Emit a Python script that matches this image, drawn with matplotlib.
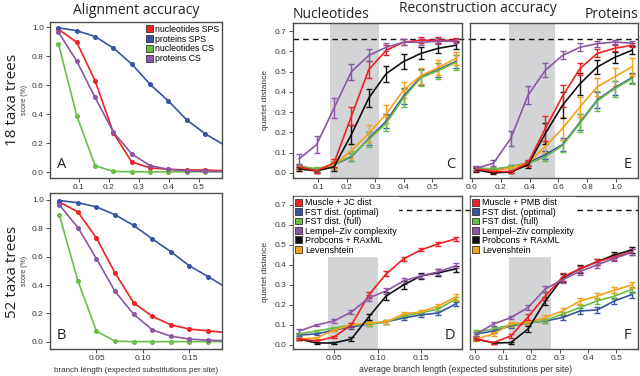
import matplotlib
matplotlib.use("Agg")
import matplotlib.pyplot as plt
from matplotlib.patches import Patch
from matplotlib import transforms

plt.rcParams['font.family'] = ['Liberation Sans', 'DejaVu Sans']

# ---------------------------------------------------------------------------
# Data
# ---------------------------------------------------------------------------
# alignment accuracy, 18 taxa (panel A)
x_a = [0.033, 0.094, 0.155, 0.216, 0.277, 0.338, 0.399, 0.46, 0.521, 0.582]
a_nuc_sps = [0.985, 0.895, 0.63, 0.27, 0.07, 0.03, 0.02, 0.015, 0.015, 0.01]
a_prot_sps = [0.995, 0.975, 0.935, 0.855, 0.745, 0.605, 0.49, 0.36, 0.265, 0.19]
a_nuc_cs = [0.885, 0.39, 0.045, 0.005, 0.003, 0.003, 0.003, 0.003, 0.003, 0.003]
a_prot_cs = [0.965, 0.765, 0.515, 0.275, 0.125, 0.045, 0.02, 0.01, 0.005, 0.005]

# alignment accuracy, 52 taxa (panel B)
x_b = [0.01, 0.03, 0.05, 0.07, 0.09, 0.11, 0.13, 0.15, 0.17, 0.19]
b_nuc_sps = [0.985, 0.915, 0.73, 0.485, 0.275, 0.18, 0.12, 0.09, 0.078, 0.065]
b_prot_sps = [0.995, 0.98, 0.95, 0.895, 0.82, 0.725, 0.635, 0.535, 0.46, 0.38]
b_nuc_cs = [0.895, 0.43, 0.075, 0.005, 0.002, 0.002, 0.002, 0.002, 0.002, 0.002]
b_prot_cs = [0.965, 0.805, 0.585, 0.355, 0.195, 0.085, 0.04, 0.02, 0.012, 0.008]

# reconstruction accuracy, nucleotides 18 taxa (panel C)
x_c = x_a
c_red = [0.03, 0.01, 0.05, 0.28, 0.51, 0.605, 0.645, 0.655, 0.655, 0.655]
c_blue = [0.03, 0.015, 0.04, 0.08, 0.17, 0.255, 0.38, 0.475, 0.51, 0.55]
c_green = [0.035, 0.02, 0.04, 0.085, 0.165, 0.245, 0.37, 0.47, 0.505, 0.545]
c_purple = [0.07, 0.14, 0.32, 0.50, 0.58, 0.62, 0.645, 0.645, 0.65, 0.65]
c_black = [0.02, 0.01, 0.03, 0.19, 0.37, 0.49, 0.55, 0.59, 0.615, 0.63]
c_orange = [0.02, 0.01, 0.04, 0.11, 0.195, 0.29, 0.41, 0.48, 0.52, 0.565]
c_red_err = [0.01, 0.01, 0.02, 0.045, 0.04, 0.025, 0.015, 0.015, 0.015, 0.01]
c_blue_err = [0.01, 0.01, 0.015, 0.02, 0.03, 0.035, 0.04, 0.04, 0.035, 0.03]
c_green_err = [0.01, 0.01, 0.015, 0.025, 0.035, 0.04, 0.045, 0.04, 0.04, 0.035]
c_purple_err = [0.025, 0.04, 0.05, 0.04, 0.03, 0.02, 0.015, 0.015, 0.015, 0.01]
c_black_err = [0.01, 0.01, 0.02, 0.045, 0.045, 0.04, 0.035, 0.03, 0.025, 0.02]
c_orange_err = [0.01, 0.01, 0.02, 0.035, 0.04, 0.045, 0.04, 0.04, 0.035, 0.03]

# reconstruction accuracy, proteins 18 taxa (panel E)
x_e = [0.03, 0.15, 0.27, 0.39, 0.51, 0.63, 0.75, 0.87, 0.99, 1.11]
e_red = [0.02, 0.007, 0.007, 0.05, 0.22, 0.38, 0.515, 0.59, 0.615, 0.63]
e_blue = [0.02, 0.015, 0.03, 0.05, 0.09, 0.14, 0.25, 0.36, 0.42, 0.47]
e_green = [0.025, 0.02, 0.03, 0.045, 0.08, 0.135, 0.245, 0.355, 0.415, 0.465]
e_purple = [0.023, 0.048, 0.17, 0.384, 0.507, 0.58, 0.62, 0.638, 0.646, 0.64]
e_black = [0.015, 0.0, 0.005, 0.04, 0.195, 0.335, 0.44, 0.523, 0.57, 0.605]
e_orange = [0.02, 0.01, 0.025, 0.05, 0.13, 0.22, 0.326, 0.425, 0.474, 0.523]
e_red_err = [0.01, 0.005, 0.005, 0.015, 0.06, 0.055, 0.03, 0.02, 0.015, 0.01]
e_blue_err = [0.01, 0.01, 0.01, 0.01, 0.02, 0.03, 0.04, 0.04, 0.035, 0.025]
e_green_err = [0.01, 0.01, 0.01, 0.01, 0.02, 0.03, 0.045, 0.05, 0.04, 0.025]
e_purple_err = [0.01, 0.015, 0.035, 0.045, 0.035, 0.02, 0.02, 0.015, 0.01, 0.01]
e_black_err = [0.01, 0.005, 0.005, 0.015, 0.05, 0.065, 0.055, 0.035, 0.025, 0.02]
e_orange_err = [0.01, 0.01, 0.01, 0.015, 0.03, 0.055, 0.05, 0.045, 0.045, 0.045]

# reconstruction accuracy, nucleotides 52 taxa (panel D)
x_d = x_b
d_red = [0.03, 0.02, 0.04, 0.10, 0.25, 0.355, 0.43, 0.475, 0.505, 0.53]
d_blue = [0.05, 0.055, 0.075, 0.09, 0.105, 0.115, 0.135, 0.15, 0.16, 0.205]
d_green = [0.055, 0.07, 0.085, 0.10, 0.105, 0.115, 0.145, 0.16, 0.18, 0.23]
d_purple = [0.07, 0.10, 0.12, 0.165, 0.235, 0.27, 0.32, 0.345, 0.365, 0.395]
d_black = [0.03, 0.01, 0.01, 0.03, 0.14, 0.245, 0.30, 0.345, 0.36, 0.38]
d_orange = [0.03, 0.035, 0.075, 0.10, 0.11, 0.115, 0.155, 0.165, 0.195, 0.24]
d_red_err = [0.005, 0.005, 0.005, 0.012, 0.015, 0.012, 0.01, 0.008, 0.01, 0.01]
d_blue_err = [0.005, 0.005, 0.005, 0.008, 0.008, 0.008, 0.01, 0.01, 0.012, 0.012]
d_green_err = [0.005, 0.005, 0.005, 0.008, 0.008, 0.008, 0.01, 0.01, 0.012, 0.012]
d_purple_err = [0.008, 0.005, 0.01, 0.012, 0.015, 0.015, 0.015, 0.012, 0.015, 0.012]
d_black_err = [0.005, 0.005, 0.005, 0.01, 0.015, 0.018, 0.02, 0.015, 0.017, 0.015]
d_orange_err = [0.005, 0.005, 0.005, 0.01, 0.01, 0.008, 0.012, 0.012, 0.012, 0.015]

# reconstruction accuracy, proteins 52 taxa (panel F)
x_f = [0.005, 0.066, 0.127, 0.188, 0.249, 0.31, 0.371, 0.432, 0.493, 0.554]
f_red = [0.03, 0.012, 0.045, 0.14, 0.245, 0.34, 0.38, 0.416, 0.44, 0.465]
f_blue = [0.055, 0.07, 0.095, 0.11, 0.12, 0.137, 0.17, 0.175, 0.22, 0.252]
f_green = [0.065, 0.08, 0.10, 0.11, 0.122, 0.155, 0.187, 0.22, 0.244, 0.277]
f_purple = [0.055, 0.105, 0.137, 0.187, 0.28, 0.326, 0.367, 0.40, 0.433, 0.462]
f_black = [0.03, 0.01, 0.012, 0.08, 0.22, 0.335, 0.38, 0.416, 0.45, 0.474]
f_orange = [0.03, 0.055, 0.105, 0.113, 0.137, 0.17, 0.22, 0.244, 0.274, 0.30]
f_red_err = [0.005, 0.005, 0.008, 0.015, 0.02, 0.02, 0.015, 0.015, 0.015, 0.015]
f_blue_err = [0.008, 0.008, 0.008, 0.01, 0.01, 0.012, 0.015, 0.015, 0.015, 0.015]
f_green_err = [0.008, 0.008, 0.008, 0.01, 0.01, 0.012, 0.015, 0.015, 0.015, 0.015]
f_purple_err = [0.008, 0.008, 0.008, 0.012, 0.015, 0.015, 0.015, 0.015, 0.015, 0.015]
f_black_err = [0.005, 0.005, 0.005, 0.015, 0.02, 0.02, 0.02, 0.015, 0.015, 0.015]
f_orange_err = [0.008, 0.008, 0.01, 0.012, 0.015, 0.015, 0.015, 0.015, 0.015, 0.015]

align_labels = ['nucleotides SPS', 'proteins SPS', 'nucleotides CS', 'proteins CS']
nuc_methods = ['Muscle + JC dist', 'FST dist. (optimal)', 'FST dist. (full)',
               'Lempel\u2013Ziv complexity', 'Probcons + RAxML', 'Levenshtein']
prot_methods = ['Muscle + PMB dist'] + nuc_methods[1:]

# ---------------------------------------------------------------------------
# Style
# ---------------------------------------------------------------------------
RED, BLUE, GREEN, PURPLE, BLACK, ORANGE = ('#ee2124', '#3953a4', '#6abd45',
                                           '#8b57a5', '#111111', '#f7a11a')
FRAME = '#4d4d4d'
BAND = '#d3d4d6'
W, H = 640, 376


def box(l, r, t, b):
    return [l / W, 1 - b / H, (r - l) / W, (b - t) / H]


def style(ax, xticks, xlabels, yticks=None, ylabels=None):
    for s in ax.spines.values():
        s.set_color(FRAME)
        s.set_linewidth(1.0)
    ax.tick_params(direction='out', length=3, width=0.7, color=FRAME,
                   labelsize=6, labelcolor='#333333', pad=1.5)
    ax.set_xticks(xticks)
    ax.set_xticklabels(xlabels)
    if yticks is None:
        ax.set_yticks([])
    else:
        ax.set_yticks(yticks)
        ax.set_yticklabels(ylabels)


def letter(ax, s, right=True):
    if right:
        ax.text(0.96, 0.04, s, transform=ax.transAxes, ha='right', va='bottom',
                fontsize=10.5, family='Open Sans', color='#222222')
    else:
        ax.text(0.04, 0.04, s, transform=ax.transAxes, ha='left', va='bottom',
                fontsize=10.5, family='Open Sans', color='#222222')


def align_panel(ax, x, series):
    for y, c in zip(series, [RED, BLUE, GREEN, PURPLE]):
        ax.plot(x, y, color=c, lw=1.2, marker='o', ms=2.6, mec=c, mfc=c,
                clip_on=True)


def recon_panel(ax, x, series, errs, band):
    ax.axvspan(band[0], band[1], color=BAND, lw=0, zorder=0)
    cols = [RED, BLUE, GREEN, PURPLE, BLACK, ORANGE]
    order = [1, 2, 5, 4, 0, 3]
    for i in order:
        ax.errorbar(x, series[i], yerr=errs[i], color=cols[i], lw=1.2,
                    elinewidth=1.0, capsize=2.5, capthick=1.0, zorder=3)


fig = plt.figure(figsize=(6.4, 3.76), dpi=100)

# --- panel A
ax_a = fig.add_axes(box(50, 222, 22, 178))
align_panel(ax_a, x_a, [a_nuc_sps, a_prot_sps, a_nuc_cs, a_prot_cs])
ax_a.set_xlim(0.005, 0.577)
ax_a.set_ylim(-0.04, 1.035)
style(ax_a, [0.1, 0.2, 0.3, 0.4, 0.5], ['0.1', '0.2', '0.3', '0.4', '0.5'],
      [0, 0.2, 0.4, 0.6, 0.8, 1.0], ['0.0', '0.2', '0.4', '0.6', '0.8', '1.0'])
ax_a.set_ylabel('score (%)', fontsize=5, color='#333333', labelpad=3)
letter(ax_a, 'A', right=False)
handles = [Patch(facecolor=c, edgecolor='#333333', lw=0.6)
           for c in [RED, BLUE, GREEN, PURPLE]]
ax_a.legend(handles, align_labels, loc='upper right', fontsize=6.3,
            frameon=False, handlelength=0.8, handleheight=0.8,
            handletextpad=0.3, labelspacing=0.1, borderpad=0.1,
            borderaxespad=0.2)

# --- panel B
ax_b = fig.add_axes(box(50, 222, 193, 349))
align_panel(ax_b, x_b, [b_nuc_sps, b_prot_sps, b_nuc_cs, b_prot_cs])
ax_b.set_xlim(0.0, 0.185)
ax_b.set_ylim(-0.05, 1.048)
style(ax_b, [0.05, 0.10, 0.15], ['0.05', '0.10', '0.15'],
      [0, 0.2, 0.4, 0.6, 0.8, 1.0], ['0.0', '0.2', '0.4', '0.6', '0.8', '1.0'])
ax_b.set_ylabel('score (%)', fontsize=5, color='#333333', labelpad=3)
letter(ax_b, 'B', right=False)
fig.text(136 / W, 1 - 370 / H,
         'branch length (expected substitutions per site)',
         ha='center', va='center', fontsize=5.8, color='#333333')

qticks = [0, 0.1, 0.2, 0.3, 0.4, 0.5, 0.6, 0.7]
qlabels = ['0.0', '0.1', '0.2', '0.3', '0.4', '0.5', '0.6', '0.7']

# --- panel C
ax_c = fig.add_axes(box(293, 462, 23, 178))
recon_panel(ax_c, x_c, [c_red, c_blue, c_green, c_purple, c_black, c_orange],
            [c_red_err, c_blue_err, c_green_err, c_purple_err, c_black_err,
             c_orange_err], (0.14, 0.312))
ax_c.set_xlim(0.011, 0.604)
ax_c.set_ylim(-0.025, 0.74)
style(ax_c, [0.1, 0.2, 0.3, 0.4, 0.5], ['0.1', '0.2', '0.3', '0.4', '0.5'],
      qticks, qlabels)
ax_c.set_ylabel('quartet distance', fontsize=6, color='#333333', labelpad=4)
letter(ax_c, 'C')

# --- panel E
ax_e = fig.add_axes(box(470, 638, 23, 178))
recon_panel(ax_e, x_e, [e_red, e_blue, e_green, e_purple, e_black, e_orange],
            [e_red_err, e_blue_err, e_green_err, e_purple_err, e_black_err,
             e_orange_err], (0.26, 0.575))
ax_e.set_xlim(-0.013, 1.153)
ax_e.set_ylim(-0.025, 0.74)
style(ax_e, [0, 0.2, 0.4, 0.6, 0.8, 1.0],
      ['0.0', '0.2', '0.4', '0.6', '0.8', '1.0'])
letter(ax_e, 'E')

# --- panel D
ax_d = fig.add_axes(box(293, 462, 196, 349))
recon_panel(ax_d, x_d, [d_red, d_blue, d_green, d_purple, d_black, d_orange],
            [d_red_err, d_blue_err, d_green_err, d_purple_err, d_black_err,
             d_orange_err], (0.043, 0.10))
ax_d.set_xlim(0.0028, 0.1972)
ax_d.set_ylim(-0.02, 0.744)
style(ax_d, [0.05, 0.10, 0.15], ['0.05', '0.10', '0.15'], qticks, qlabels)
ax_d.set_ylabel('quartet distance', fontsize=6, color='#333333', labelpad=4)
letter(ax_d, 'D')

# --- panel F
ax_f = fig.add_axes(box(470, 638, 196, 349))
recon_panel(ax_f, x_f, [f_red, f_blue, f_green, f_purple, f_black, f_orange],
            [f_red_err, f_blue_err, f_green_err, f_purple_err, f_black_err,
             f_orange_err], (0.12, 0.27))
ax_f.set_xlim(-0.017, 0.576)
ax_f.set_ylim(-0.02, 0.744)
style(ax_f, [0, 0.1, 0.2, 0.3, 0.4, 0.5],
      ['0.0', '0.1', '0.2', '0.3', '0.4', '0.5'])
letter(ax_f, 'F')

# dashed reference lines (run across the gap between panels)
for ax_l, ax_r, y, x0 in [(ax_c, ax_e, 0.66, 293), (ax_d, ax_f, 0.675, 387)]:
    tr = transforms.blended_transform_factory(fig.transFigure, ax_l.transData)
    ax_l.plot([x0 / W, 470 / W], [y, y], transform=tr, color='#111111',
              lw=1.0, ls=(0, (4, 3)), clip_on=False, zorder=1)
    ax_r.axhline(y, color='#111111', lw=1.0, ls=(0, (4, 3)), zorder=1)

# legends for D and F
mhandles = [Patch(facecolor=c, edgecolor='#333333', lw=0.6)
            for c in [RED, BLUE, GREEN, PURPLE, BLACK, ORANGE]]
for ax, labels in [(ax_d, nuc_methods), (ax_f, prot_methods)]:
    leg = ax.legend(mhandles, labels, loc='upper left', fontsize=6.5,
                    frameon=True, fancybox=False, handlelength=0.8,
                    handleheight=0.8, handletextpad=0.3, labelspacing=0.05,
                    borderpad=0.15, borderaxespad=0.1)
    leg.get_frame().set_facecolor('white')
    leg.get_frame().set_edgecolor('white')
    leg.get_frame().set_alpha(1.0)
    leg.set_zorder(5)

fig.text(0.5 * (293 + 638) / W, 1 - 370 / H,
         'average branch length (expected substitutions per site)',
         ha='center', va='center', fontsize=6.3, color='#333333')

# headings
fig.text(136 / W, 1 - 10 / H, 'Alignment accuracy', ha='center', va='center',
         fontsize=10, family='Open Sans', color='#222222')
fig.text(478 / W, 1 - 8 / H, 'Reconstruction accuracy', ha='center',
         va='center', fontsize=10, family='Open Sans', color='#222222')
fig.text(293 / W, 1 - 15 / H, 'Nucleotides', ha='left', va='center',
         fontsize=10, family='Open Sans', color='#222222')
fig.text(638 / W, 1 - 15 / H, 'Proteins', ha='right', va='center',
         fontsize=10, family='Open Sans', color='#222222')
fig.text(13 / W, 1 - 100 / H, '18 taxa trees', rotation=90, ha='center',
         va='center', fontsize=11, family='Open Sans', color='#222222')
fig.text(13 / W, 1 - 272 / H, '52 taxa trees', rotation=90, ha='center',
         va='center', fontsize=11, family='Open Sans', color='#222222')

fig.savefig('out.png', dpi=100)
